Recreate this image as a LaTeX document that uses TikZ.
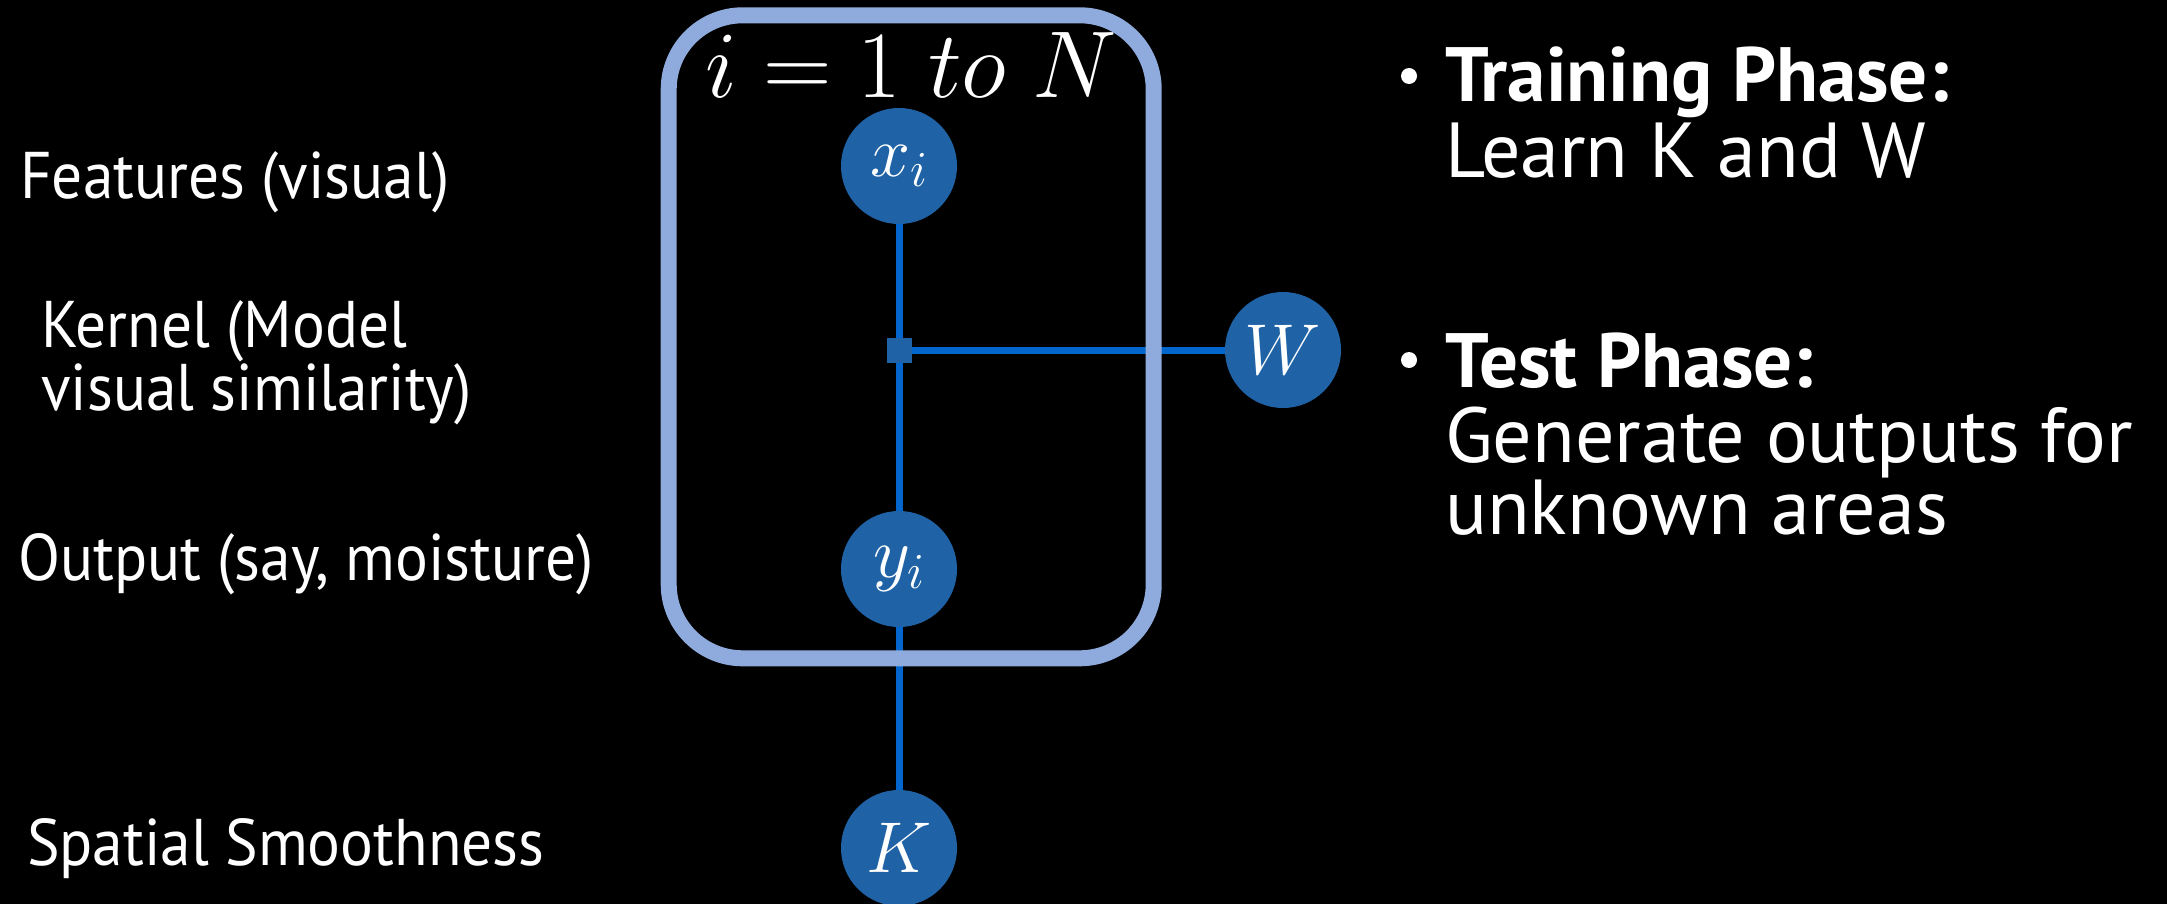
\documentclass[tikz,border=0pt]{standalone}
\usepackage{fix-cm}
\usepackage{fontspec}
\setmainfont{PT Sans}
\newfontfamily\lblfont[FakeStretch=0.93]{PT Sans}
\definecolor{platecol}{RGB}{143,170,220}
\definecolor{nodefill}{RGB}{31,99,166}
\definecolor{edgecol}{RGB}{3,102,204}
\pgfdeclarelayer{bg}
\pgfdeclarelayer{mid}
\pgfsetlayers{bg,mid,main}
\tikzset{
  var/.style={circle, fill=nodefill, minimum size=116pt, inner sep=0pt, text=white, font=\fontsize{72}{72}\selectfont},
  conn/.style={draw=edgecol, line width=7pt},
  lbl/.style={text=white, anchor=base west, inner sep=0pt, font=\lblfont\fontsize{66}{58}\selectfont},
  rtxt/.style={text=white, anchor=base west, inner sep=0pt, font=\fontsize{78}{78}\selectfont},
  rbold/.style={text=white, anchor=base west, inner sep=0pt, font=\bfseries\fontsize{77}{77}\selectfont},
  platebox/.style={draw=platecol, line width=16pt, rounded corners=74pt},
  factorbox/.style={rectangle, fill=nodefill, minimum size=25pt, inner sep=0pt},
  bulletdot/.style={circle, fill=white, minimum size=16pt, inner sep=0pt}
}
\begin{document}
\begin{tikzpicture}[x=1pt,y=-1pt]
\begin{pgfonlayer}{bg}
\fill[black] (0,0) rectangle (2167,904);
\end{pgfonlayer}
\useasboundingbox (0,0) rectangle (2167,904);
% nodes
\node[var] (x) at (899,166) {$x_i$};
\node[var] (y) at (899,569) {$y_i$};
\node[var] (k) at (899,848) {$K$};
\node[var] (w) at (1283,350) {$W$};
\node[factorbox] (f) at (899,350) {};
% connectors
\begin{pgfonlayer}{bg}
\draw[conn] (x) -- (y);
\draw[conn] (y) -- (k);
\draw[conn] (f) -- (w);
\end{pgfonlayer}
% plate
\begin{pgfonlayer}{mid}
\draw[platebox] (668.7,15.3) rectangle (1153.7,658.3);
\end{pgfonlayer}
\node[text=white, anchor=base west, inner sep=0pt, font=\fontsize{95}{95}\selectfont] (plate) at (705,98) {$i = 1\;to\;N$};
% left labels
\node[lbl] (feat) at (20,198) {Features (visual)};
\node[lbl, align=left] (kern) at (41,410) {Kernel (Model\\visual similarity)};
\node[lbl] (outp) at (18,580) {Output (say, moisture)};
\node[lbl] (spat) at (27,865) {Spatial Smoothness};
% right text
\node[bulletdot] (b1) at (1409,76) {};
\node[rbold] (train) at (1445,102) {Training Phase:};
\node[rtxt] (learn) at (1445,178) {Learn K and W};
\node[bulletdot] (b2) at (1409,360) {};
\node[rbold] (test) at (1445,387) {Test Phase:};
\node[rtxt] (gen) at (1445,462) {Generate outputs for};
\node[rtxt] (unk) at (1445,534) {unknown areas};
\end{tikzpicture}
\end{document}
